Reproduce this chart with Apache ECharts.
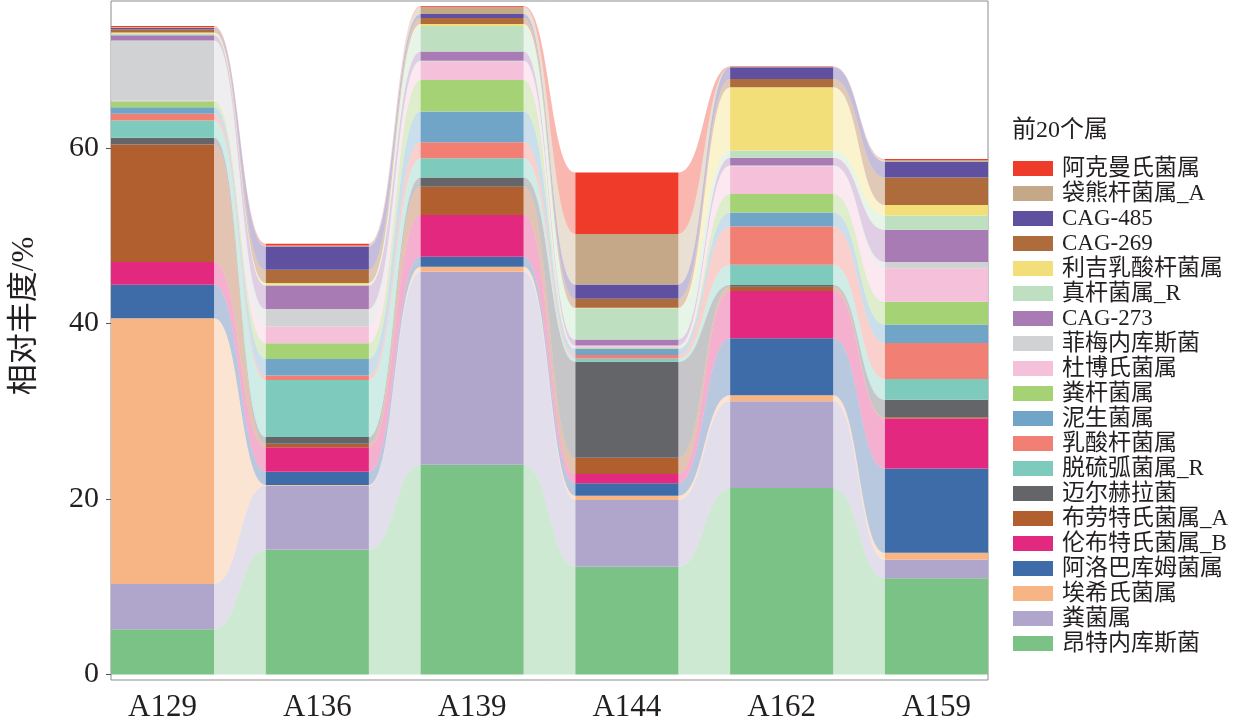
<!DOCTYPE html>
<html><head><meta charset="utf-8">
<script src="https://cdn.jsdelivr.net/npm/echarts@6/dist/echarts.min.js"></script>
<style>html,body{margin:0;padding:0;background:#fff}#c{width:1240px;height:725px}</style>
</head><body><div id="c"></div>
<script>
// samples (x categories)
const samples = ['A129', 'A136', 'A139', 'A144', 'A162', 'A159'];
// y tick labels
const yTicks = [0, 20, 40, 60];
// genera, bottom of stack first
const genera = ['昂特内库斯菌', '粪菌属', '埃希氏菌属', '阿洛巴库姆菌属', '伦布特氏菌属_B', '布劳特氏菌属_A', '迈尔赫拉菌', '脱硫弧菌属_R', '乳酸杆菌属', '泥生菌属', '粪杆菌属', '杜博氏菌属', '菲梅内库斯菌', 'CAG-273', '真杆菌属_R', '利吉乳酸杆菌属', 'CAG-269', 'CAG-485', '袋熊杆菌属_A', '阿克曼氏菌属'];
const colors = ['#7AC285', '#B0A6CC', '#F7B586', '#3E6CA8', '#E3287F', '#B25F30', '#646569', '#7ECBBE', '#F17F74', '#70A5C8', '#A5D274', '#F5C0DA', '#D1D2D4', '#A97BB5', '#BEE0C0', '#F2DF7A', '#AE6C3C', '#5F50A0', '#C4A888', '#EE3B2A'];
// relative abundance (%) per genus, in sample order
const vOnte  = [5.15, 14.2, 23.9, 12.28, 21.25, 10.96];
const vFenj  = [5.15, 7.3, 22.0, 7.6, 9.9, 2.1];
const vAixi  = [30.3, 0.1, 0.57, 0.49, 0.68, 0.8];
const vAluo  = [3.8, 1.5, 1.14, 1.41, 6.5, 9.6];
const vLunb  = [2.6, 2.8, 4.75, 1.06, 5.36, 5.7];
const vBlau  = [13.4, 0.4, 3.23, 1.86, 0.5, 0.15];
const vMaie  = [0.76, 0.76, 1.06, 10.94, 0.2, 2.0];
const vTuol  = [1.97, 6.5, 2.17, 0.38, 2.3, 2.36];
const vRusu  = [0.76, 0.5, 1.82, 0.38, 4.37, 4.1];
const vNish  = [0.75, 1.9, 3.53, 0.68, 1.6, 2.1];
const vFeng  = [0.68, 1.8, 3.57, 0.1, 2.1, 2.6];
const vDubo  = [0.1, 1.9, 2.1, 0.2, 3.15, 3.83];
const vFeim  = [6.84, 2.0, 0.1, 0.1, 0.1, 0.72];
const vC273  = [0.6, 2.66, 1.06, 0.68, 0.87, 3.65];
const vZhen  = [0.2, 0.1, 2.9, 3.57, 0.83, 1.63];
const vLiji  = [0.1, 0.2, 0.23, 0.05, 7.2, 1.2];
const vC269  = [0.38, 1.5, 0.68, 1.03, 0.95, 3.15];
const vC485  = [0.15, 2.66, 0.45, 1.63, 1.33, 1.78];
const vDaix  = [0.1, 0.1, 0.83, 5.77, 0.05, 0.2];
const vAkem  = [0.1, 0.2, 0.1, 7.0, 0.05, 0.1];
const values = [vOnte, vFenj, vAixi, vAluo, vLunb, vBlau, vMaie, vTuol, vRusu, vNish, vFeng, vDubo, vFeim, vC273, vZhen, vLiji, vC269, vC485, vDaix, vAkem];

const HW = 0.333; // half bar width in category units
const FONT = "'Liberation Serif', 'Noto Sans CJK SC', serif";
const n = samples.length;
const base = new Array(n).fill(0);
const series = genera.map((g, k) => {
  const bot = base.slice();
  const top = bot.map((b, i) => b + values[k][i]);
  for (let i = 0; i < n; i++) base[i] = top[i];
  const data = samples.map((s, i) => [i, bot[i], top[i], i < n - 1 ? bot[i + 1] : 0, i < n - 1 ? top[i + 1] : 0]);
  return {
    type: 'custom', name: g, data: data, silent: true,
    itemStyle: { color: colors[k] },
    label: { show: false },
    encode: { x: 0, y: [1, 2] },
    renderItem: function (params, api) {
      const i = api.value(0), b = api.value(1), t = api.value(2);
      const col = api.visual('color');
      const p0 = api.coord([i - HW, t]), p1 = api.coord([i + HW, b]);
      const children = [{
        type: 'rect',
        shape: { x: p0[0], y: p0[1], width: p1[0] - p0[0], height: p1[1] - p0[1] },
        style: { fill: col }
      }];
      if (i < n - 1) {
        const nb = api.value(3), nt = api.value(4);
        const a = api.coord([i + HW, t]), ab = api.coord([i + HW, b]);
        const c = api.coord([i + 1 - HW, nt]), cb = api.coord([i + 1 - HW, nb]);
        const xm = (a[0] + c[0]) / 2;
        const d = 'M' + a[0] + ' ' + a[1] + ' C' + xm + ' ' + a[1] + ' ' + xm + ' ' + c[1] + ' ' + c[0] + ' ' + c[1] +
          ' L' + cb[0] + ' ' + cb[1] + ' C' + xm + ' ' + cb[1] + ' ' + xm + ' ' + ab[1] + ' ' + ab[0] + ' ' + ab[1] + ' Z';
        children.push({ type: 'path', shape: { pathData: d }, style: { fill: col, opacity: 0.37 } });
      }
      return { type: 'group', children: children };
    }
  };
});

const chart = echarts.init(document.getElementById('c'));
chart.setOption({
  animation: false,
  backgroundColor: '#fff',
  grid: { left: 111, right: 252, top: 1, bottom: 45, show: true, borderColor: '#8c8c8c', borderWidth: 1, backgroundColor: 'transparent' },
  title: { text: '前20个属', left: 1012, top: 119, padding: 0, textStyle: { fontFamily: FONT, fontSize: 24, fontWeight: 'normal', color: '#231F20' } },
  legend: {
    orient: 'vertical', left: 1013, top: 157, padding: 0, icon: 'rect', itemWidth: 40, itemHeight: 15, itemGap: 2,
    data: genera.slice().reverse(),
    textStyle: { fontFamily: FONT, fontSize: 23, lineHeight: 22, color: '#231F20', padding: [0, 0, 0, 4] }
  },
  xAxis: {
    type: 'value', min: -HW, max: n - 1 + HW,
    axisLine: { show: false, onZero: false }, axisTick: { show: false }, splitLine: { show: false },
    axisLabel: { customValues: samples.map((s, i) => i), formatter: v => samples[Math.round(v)], fontFamily: FONT, fontSize: 31, color: '#231F20', margin: 12 }
  },
  yAxis: {
    type: 'value', min: -0.63, max: 76.75,
    axisLine: { show: false, onZero: false }, splitLine: { show: false },
    axisTick: { show: true, customValues: yTicks, length: 5, lineStyle: { color: '#555' } },
    axisLabel: { customValues: yTicks, fontFamily: FONT, fontSize: 30, color: '#231F20', margin: 12 }
  },
  graphic: [{
    type: 'text', x: 25, y: 316, rotation: Math.PI / 2,
    style: { text: '相对丰度/%', fontFamily: FONT, fontSize: 31, fill: '#231F20', align: 'center', verticalAlign: 'middle' }
  }],
  series: series
});
</script></body></html>
